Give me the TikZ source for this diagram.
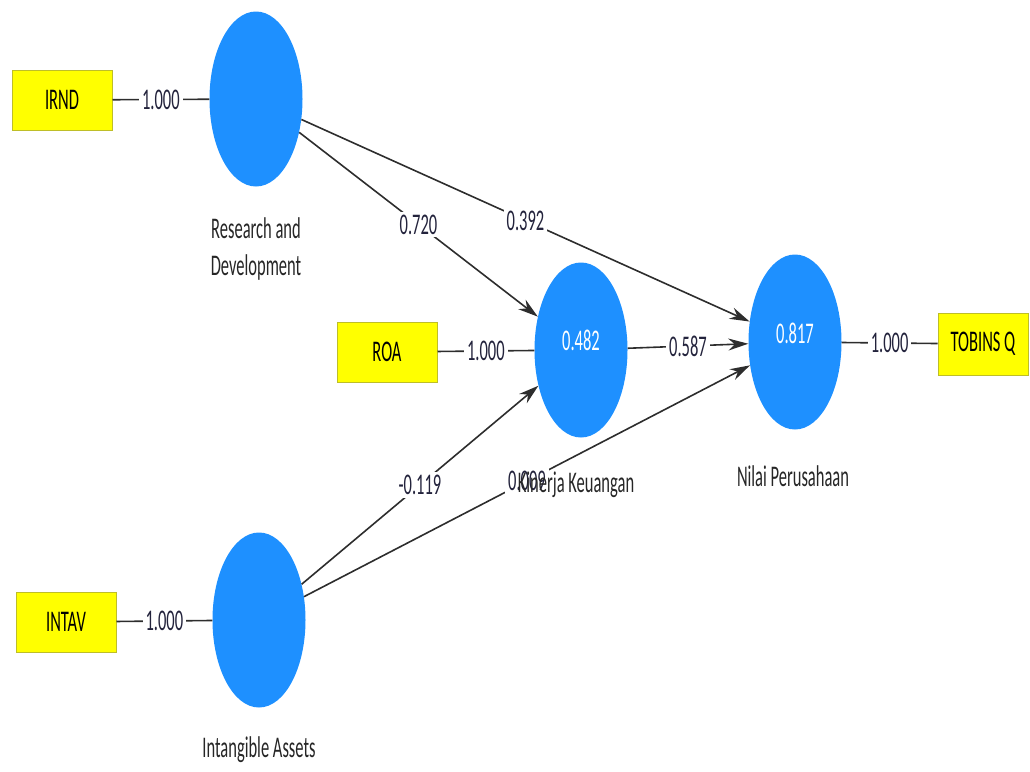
\documentclass[tikz,border=0pt]{standalone}
\usepackage{fontspec}
\setmainfont[FakeStretch=0.55]{Carlito}
\usetikzlibrary{shapes.geometric,arrows.meta}
\definecolor{lvblue}{RGB}{30,144,255}
\definecolor{mvyellow}{RGB}{255,255,0}
\definecolor{mvborder}{RGB}{190,190,40}
\definecolor{linkgray}{RGB}{45,45,45}
\definecolor{coefink}{RGB}{35,35,60}
\begin{document}
\begin{tikzpicture}[x=1pt,y=-1pt]
      \tikzstyle{every node}+=[font=\fontsize{30}{37}\selectfont]
      \tikzstyle{latent}=[ellipse,fill=lvblue,minimum width=93pt,minimum height=175pt,inner sep=0pt]
      \tikzstyle{indicator}=[rectangle,fill=mvyellow,draw=mvborder,line width=1pt,minimum width=100pt,minimum height=60pt,inner sep=0pt,text=black]
      \tikzstyle{link}=[draw=linkgray,line width=1.6pt]
      \tikzstyle{arr}=[-{Stealth[length=20pt,width=12pt]}]
      \tikzstyle{coef}=[fill=white,inner sep=3pt,text=coefink]
      \tikzstyle{r2}=[text=white,inner sep=0pt]
      \tikzstyle{caption}=[text=black!85,align=center,inner sep=0pt]
      \useasboundingbox (0,0) rectangle (1030,771);
      \node [indicator] (irnd) at (62,100) {IRND};
      \node [latent] (rd) at (256,99) {};
      \node [indicator] (roa) at (387,352) {ROA};
      \node [latent] (kk) at (581,350) {};
      \node [r2] (kkr2) at (581,340) {0.482};
      \node [latent] (np) at (795,342) {};
      \node [r2] (npr2) at (795,333) {0.817};
      \node [indicator,minimum width=90pt,minimum height=62pt] (tq) at (983,344) {TOBINS Q};
      \node [indicator] (intav) at (66,622) {INTAV};
      \node [latent] (ia) at (259,620) {};
      \draw [link] (irnd) -- node [coef] {1.000} (rd);
      \draw [link] (roa) -- node [coef] {1.000} (kk);
      \draw [link] (np) -- node [coef] {1.000} (tq);
      \draw [link] (intav) -- node [coef] {1.000} (ia);
      \draw [link,arr] (rd) -- node [coef] {0.720} (kk);
      \draw [link,arr] (rd) -- node [coef] {0.392} (np);
      \draw [link,arr] (kk) -- node [coef] {0.587} (np);
      \draw [link,arr] (ia) -- node [coef] {-0.119} (kk);
      \draw [link,arr] (ia) -- node [coef] {0.009} (np);
      \node [caption] (rdname) at (256,249) {Research and\\Development};
      \node [caption] (kkname) at (576,485) {Kinerja Keuangan};
      \node [caption] (npname) at (793,476) {Nilai Perusahaan};
      \node [caption] (ianame) at (259,750) {Intangible Assets};
\end{tikzpicture}
\end{document}
